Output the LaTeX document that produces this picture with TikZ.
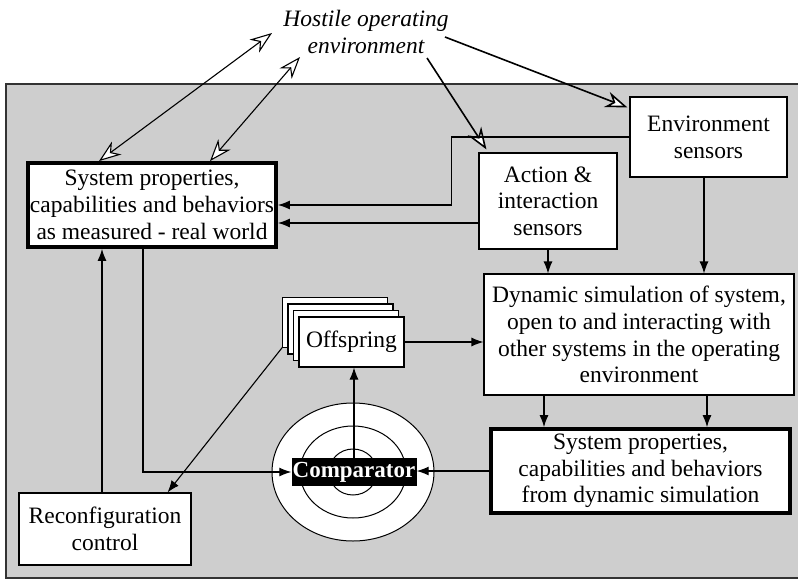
\documentclass[tikz,border=0pt]{standalone}
\usepackage{fontspec}
\setmainfont{Liberation Serif}
\definecolor{panelgray}{RGB}{206,206,206}
\usetikzlibrary{arrows.meta,calc}

\tikzset{
  blockbox/.style={draw, fill=white, line width=1.1pt, align=center, inner sep=0pt},
  heavybox/.style={blockbox, line width=3.8pt},
  feed/.style={line width=1.1pt, -{Latex[length=12pt,width=9pt]}},
  hostile arrow/.style={line width=1.6pt, -{Stealth[length=22pt,width=16pt,inset=7pt,fill=white]}},
  twoway/.style={line width=1.1pt, {Stealth[length=22pt,width=16pt,inset=7pt,fill=white]}-{Stealth[length=22pt,width=16pt,inset=7pt,fill=white]}}
}

\begin{document}
\begin{tikzpicture}[x=1pt, y=-1pt, font=\fontsize{23.5}{26.7}\selectfont]
    \useasboundingbox (0,0) rectangle (798,579);
    % the system
    \filldraw[fill=panelgray, draw=black!80, line width=1.2pt] (6,84) rectangle (810,578);

    \node[align=center, font=\fontsize{23.5}{26.7}\selectfont\itshape] (hostile) at (366,32)
      {Hostile operating\\environment};

    \node[heavybox, minimum width=248pt, minimum height=84pt] (sysreal) at (152,205)
      {System properties,\\capabilities and behaviors\\as measured - real world};
    \node[blockbox, minimum width=157pt, minimum height=80pt] (envsens) at (708.5,137)
      {Environment\\sensors};
    \node[blockbox, minimum width=138pt, minimum height=96pt] (actsens) at (548,201)
      {Action \&\\interaction\\sensors};
    \node[blockbox, minimum width=310pt, minimum height=121pt] (dynsim) at (639,334.5)
      {Dynamic simulation of system,\\open to and interacting with\\other systems in the operating\\environment};
    \node[heavybox, minimum width=299pt, minimum height=84pt] (syssim) at (640.5,471)
      {System properties,\\capabilities and behaviors\\from dynamic simulation};
    \node[blockbox, minimum width=172pt, minimum height=72pt] (reconfig) at (105,529)
      {Reconfiguration\\control};

    % offspring back to reconfiguration (under the stack)
    \coordinate (offtail) at (289,339);
    \draw[feed] (offtail) -- ([xshift=-24pt]reconfig.north east);

    % offspring stack
    \coordinate (offc) at (351.5,342);
    \foreach \k in {3,2,1}
      \node[blockbox, minimum width=105pt, minimum height=50pt] (offs\k) at ($(offc)+(-5.5*\k,-6.5*\k)$) {};
    \node[blockbox, minimum width=105pt, minimum height=50pt] (offs) at (offc) {Offspring};

    % comparator target
    \coordinate (cmpc) at (353,472);
    \draw[fill=white, line width=1pt] (cmpc) ellipse [x radius=81, y radius=69];
    \draw[line width=1pt] (cmpc) ellipse [x radius=53, y radius=46];
    \draw[line width=1pt] (cmpc) ellipse [x radius=24, y radius=23];
    \node[fill=black, text=white, font=\fontsize{23}{26}\selectfont\bfseries, inner sep=0pt,
          minimum width=125pt, minimum height=28pt] (cmp) at (354,472) {Comparator};

    % outside world
    \coordinate (hostA) at (272,33);
    \coordinate (hostB) at (300,57);
    \coordinate (hostC) at (445,37);
    \coordinate (hostD) at (427,58);
    \draw[twoway] (hostA) -- ([xshift=-53pt]sysreal.north);
    \draw[twoway] (hostB) -- ([xshift=58pt]sysreal.north);
    \draw[hostile arrow] (hostC) -- ([xshift=-2pt,yshift=-11pt]envsens.north west);
    \draw[hostile arrow] (hostD) -- ([xshift=8pt,yshift=3pt]actsens.north west);

    % sensor feeds
    \draw[feed] (envsens.west) -- ++(-178,0) |- (sysreal.east);
    \draw[feed] ([yshift=-22pt]actsens.west) -- ([yshift=-18pt]sysreal.east);
    \draw[feed] (actsens.south) -- (actsens.south |- dynsim.north);
    \draw[feed] ([xshift=-4.5pt]envsens.south) -- ([xshift=-4.5pt]envsens.south |- dynsim.north);
    \draw[feed] ([xshift=-95pt]dynsim.south) -- ([xshift=-95pt]dynsim.south |- syssim.north);
    \draw[feed] ([xshift=68pt]dynsim.south) -- ([xshift=68pt]dynsim.south |- syssim.north);

    % comparison loop
    \draw[feed] (syssim.west) -- (syssim.west -| cmp.east);
    \draw[feed] ([xshift=-9pt]sysreal.south) |- (cmp.west);
    \draw[feed] (cmp.north) -- (cmp.north |- offs.south);
    \draw[feed] (offs.east) -- (offs.east -| dynsim.west);
    \draw[feed] ([xshift=-3pt]reconfig.north) -- ([xshift=-3pt]reconfig.north |- sysreal.south);
  \end{tikzpicture}
\end{document}
